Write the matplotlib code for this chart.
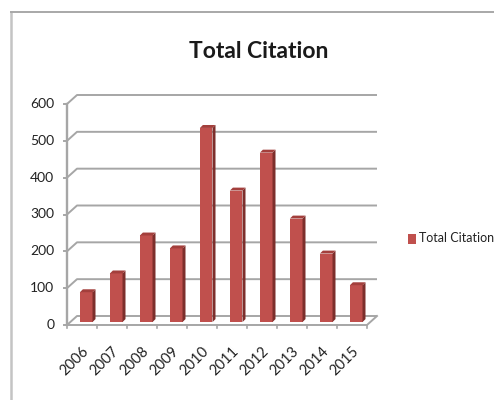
import matplotlib
matplotlib.use("Agg")
import matplotlib.pyplot as plt
from matplotlib.patches import Polygon, Rectangle
from matplotlib.lines import Line2D

years = ["2006", "2007", "2008", "2009", "2010", "2011", "2012", "2013", "2014", "2015"]
citations = [81, 132, 235, 200, 527, 357, 460, 281, 186, 100]
y_ticks = [0, 100, 200, 300, 400, 500, 600]
series_name = "Total Citation"

GRID = "#a6a6a6"
FRONT = "#c0504d"
SIDE = "#7d2f2c"
TOP = "#a33f3c"
FONT = ["Lato", "DejaVu Sans"]

W, H = 494, 400
fig = plt.figure(figsize=(W / 100, H / 100), dpi=100, facecolor="white")

# Chart frame, running off the right and bottom of the canvas
fig.add_artist(Line2D([11 / W, 11 / W], [0, 1 - 12 / H], color="#c4c4c4", lw=1.8))
fig.add_artist(Line2D([11 / W, 1], [1 - 12 / H, 1 - 12 / H], color="#a8a8a8", lw=1.4))

# Axes span the front plane of the pseudo-3D box
ax = fig.add_axes([67 / W, (H - 325) / H, 300 / W, 221 / H])
ax.set_xlim(0, 10)
ax.set_ylim(0, 600)
ax.axis("off")

depth_x = 10 / 30      # wall depth in category units
depth_y = 9 * 600 / 221  # wall depth in value units

for t in y_ticks:
    ax.plot([0, depth_x, 10 + depth_x], [t, t + depth_y, t + depth_y],
            color=GRID, lw=1.4, clip_on=False, solid_capstyle="butt", zorder=1)
    ax.plot([-0.1, 0], [t, t], color=GRID, lw=1.4, clip_on=False, zorder=1)
    ax.text(-0.42, t, str(t), ha="right", va="center", fontsize=10,
            color="#222222", family=FONT)

ax.plot([0, 0], [0, 600], color=GRID, lw=1.7, clip_on=False, zorder=1)
ax.plot([0, 10, 10 + depth_x], [0, 0, depth_y], color=GRID, lw=1.4, clip_on=False, zorder=1)

for i in range(11):
    ax.plot([i, i], [-9, 0], color=GRID, lw=1.2, clip_on=False, zorder=1)

# Columns: front face plus extruded side and top
bar_w = 0.42
bar_dx = 0.1
bar_dy = 8
base = 8
for i, (yr, v) in enumerate(zip(years, citations)):
    x0 = i + 0.5 + 0.14 - bar_w / 2
    x1 = x0 + bar_w
    top = base + v
    ax.bar(x0, v, width=bar_w, bottom=base, align="edge", color=FRONT, zorder=3,
           clip_on=False)
    ax.add_patch(Polygon([(x1, base), (x1 + bar_dx, base + bar_dy),
                          (x1 + bar_dx, top + bar_dy), (x1, top)],
                         closed=True, fc=SIDE, ec="none", zorder=3, clip_on=False))
    ax.add_patch(Polygon([(x0, top), (x0 + bar_dx, top + bar_dy),
                          (x1 + bar_dx, top + bar_dy), (x1, top)],
                         closed=True, fc=TOP, ec="none", zorder=3, clip_on=False))
    ax.text(i + 0.5, -52, yr, rotation=45, ha="right", va="top", rotation_mode="anchor",
            fontsize=10.5, color="#222222", family=FONT)

fig.text(259 / W, 1 - 51 / H, series_name, ha="center", va="center", fontsize=16.5,
         fontweight="bold", color="#1a1a1a", family=FONT)

# Legend
fig.add_artist(Rectangle((408 / W, 1 - 244 / H), 8 / W, 10 / H, transform=fig.transFigure,
                         fc=FRONT, ec="none"))
fig.text(419 / W, 1 - 238 / H, series_name, ha="left", va="center", fontsize=9,
         color="#222222", family=FONT)

fig.savefig("out.png", dpi=100)
